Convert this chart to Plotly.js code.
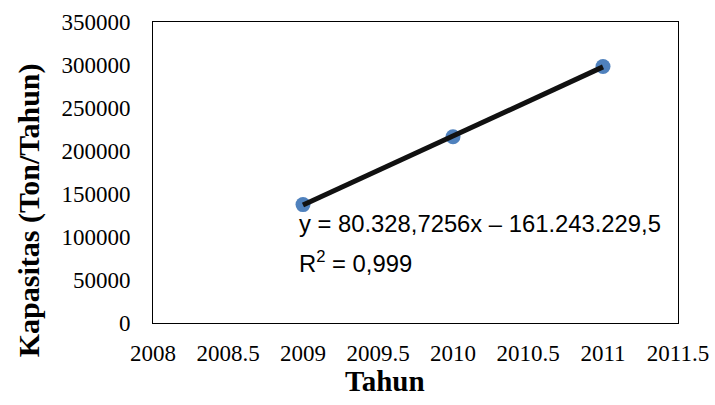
<!DOCTYPE html>
<html>
<head>
<meta charset="utf-8">
<script src="https://cdn.plot.ly/plotly-3.0.1.min.js"></script>
<style>html,body{margin:0;padding:0;background:#fff;}#chart{width:715px;height:405px;}</style>
</head>
<body>
<div id="chart"></div>
<script>
// Data
const years = [2009, 2010, 2011];
const kapasitas = [137700, 216500, 298300];
const xTicks = [2008, 2008.5, 2009, 2009.5, 2010, 2010.5, 2011, 2011.5];
const yTicks = [0, 50000, 100000, 150000, 200000, 250000, 300000, 350000];
const eqText = 'y = 80.328,7256x – 161.243.229,5';
const r2Text = 'R<sup>2</sup> = 0,999';

// Linear least-squares trendline over the data range
const n = years.length;
const mx = years.reduce((a, b) => a + b, 0) / n;
const my = kapasitas.reduce((a, b) => a + b, 0) / n;
let sxy = 0, sxx = 0;
for (let i = 0; i < n; i++) { sxy += (years[i] - mx) * (kapasitas[i] - my); sxx += (years[i] - mx) ** 2; }
const slope = sxy / sxx, intercept = my - slope * mx;
const trendX = [years[0], years[n - 1]];
const trendY = trendX.map(x => slope * x + intercept);

const serif = '"Liberation Serif", "Times New Roman", serif';
const sans = '"Liberation Sans", Arial, sans-serif';

const data = [
  { x: years, y: kapasitas, type: 'scatter', mode: 'markers',
    marker: { color: '#4f81bd', size: 15 }, hoverinfo: 'skip' },
  { x: trendX, y: trendY, type: 'scatter', mode: 'lines',
    line: { color: '#111111', width: 5 }, hoverinfo: 'skip' }
];

const layout = {
  width: 715, height: 405,
  margin: { l: 153, r: 37, t: 22, b: 82 },
  paper_bgcolor: '#ffffff', plot_bgcolor: '#ffffff',
  showlegend: false,
  xaxis: {
    range: [2008, 2011.5], tickvals: xTicks, ticktext: xTicks.map(String),
    showgrid: false, zeroline: false, showline: true, mirror: true,
    linecolor: '#000', linewidth: 1, ticks: '',
    ticklabelstandoff: 9,
    tickfont: { family: serif, size: 23, color: '#000' }
  },
  yaxis: {
    range: [0, 350000], tickvals: yTicks, ticktext: yTicks.map(String),
    showgrid: false, zeroline: false, showline: true, mirror: true,
    linecolor: '#000', linewidth: 1, ticks: '',
    ticklabelstandoff: 17,
    tickfont: { family: serif, size: 23, color: '#000' }
  },
  annotations: [
    { text: '<b>Kapasitas (Ton/Tahun)</b>', xref: 'paper', yref: 'paper',
      x: -0.236, y: 0.375, xanchor: 'center', yanchor: 'middle', textangle: -90,
      showarrow: false, font: { family: serif, size: 30, color: '#000' } },
    { text: '<b>Tahun</b>', xref: 'paper', yref: 'paper',
      x: 0.442, y: -0.193, xanchor: 'center', yanchor: 'middle',
      showarrow: false, font: { family: serif, size: 29, color: '#000' } },
    { text: eqText, xref: 'paper', yref: 'paper',
      x: 0.274, y: 0.329, xanchor: 'left', yanchor: 'middle',
      showarrow: false, font: { family: sans, size: 23.8, color: '#000' } },
    { text: r2Text, xref: 'paper', yref: 'paper',
      x: 0.274, y: 0.203, xanchor: 'left', yanchor: 'middle',
      showarrow: false, font: { family: sans, size: 23.8, color: '#000' } }
  ]
};

Plotly.newPlot('chart', data, layout, { staticPlot: true, displayModeBar: false });
</script>
</body>
</html>
